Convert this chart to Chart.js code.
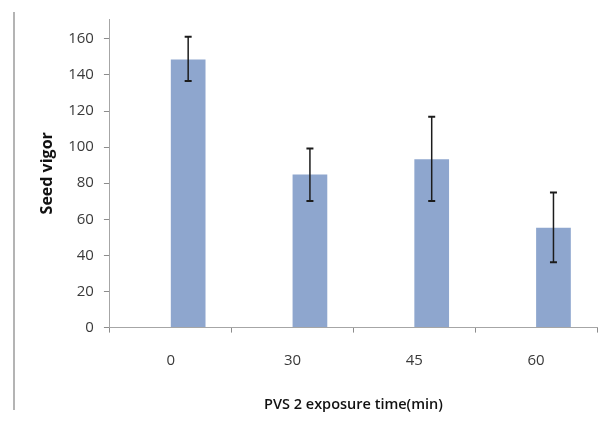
<!DOCTYPE html>
<html>
<head>
<meta charset="utf-8">
<script src="https://cdn.jsdelivr.net/npm/chart.js@4"></script>
<style>
  html, body { margin: 0; padding: 0; background: #fff; }
  #wrap { position: relative; width: 603px; height: 431px; }
  #edge { position: absolute; left: 13px; top: 12px; width: 2px; height: 398px; background: #b4b4b4; }
</style>
</head>
<body>
<div id="wrap">
  <canvas id="myChart" width="603" height="431"></canvas>
  <div id="edge"></div>
</div>
<script>
var xValues = ["0", "30", "45", "60"];
var vigor = [148.5, 84.8, 93.3, 55.3];
var errLow = [136.6, 70.2, 70.2, 36.2];
var errHigh = [161.2, 99.3, 116.8, 74.9];
// the Excel original has an empty first series, which pushes the bars right of the labels
var emptySeries = [null, null, null, null];

var tickFont = { family: "Open Sans", size: 15 };

var errorBars = {
  id: "errorBars",
  afterDatasetsDraw: function (chart) {
    var ctx = chart.ctx;
    var y = chart.scales.y;
    var meta = chart.getDatasetMeta(1);
    ctx.save();
    ctx.strokeStyle = "#1c1c1c";
    meta.data.forEach(function (bar, i) {
      var x = bar.x;
      var top = y.getPixelForValue(errHigh[i]);
      var bot = y.getPixelForValue(errLow[i]);
      ctx.lineWidth = 1.5;
      ctx.beginPath();
      ctx.moveTo(x, top);
      ctx.lineTo(x, bot);
      ctx.stroke();
      ctx.lineWidth = 2;
      ctx.beginPath();
      ctx.moveTo(x - 3.5, top);
      ctx.lineTo(x + 3.5, top);
      ctx.moveTo(x - 3.5, bot);
      ctx.lineTo(x + 3.5, bot);
      ctx.stroke();
    });
    ctx.restore();
  }
};

new Chart("myChart", {
  type: "bar",
  data: {
    labels: xValues,
    datasets: [{
      data: emptySeries,
      backgroundColor: "rgba(0,0,0,0)"
    }, {
      data: vigor,
      backgroundColor: "#8ea6ce",
      borderWidth: 0
    }]
  },
  plugins: [errorBars],
  options: {
    responsive: false,
    animation: false,
    datasets: { bar: { barPercentage: 1.0, categoryPercentage: 0.57 } },
    layout: { padding: { left: 25, right: 6, top: 5, bottom: 0 } },
    plugins: {
      legend: { display: false },
      tooltip: { enabled: false }
    },
    scales: {
      x: {
        offset: true,
        border: { color: "#a6a6a6", width: 1 },
        grid: { offset: true, drawOnChartArea: false, tickLength: 5, color: "#8c8c8c" },
        ticks: { padding: 19, color: "#3a3a3a", font: tickFont },
        title: {
          display: true,
          text: "PVS 2 exposure time(min)",
          color: "#111",
          font: { family: "Open Sans", size: 14.5, weight: "600" },
          padding: { top: 8, bottom: 17 }
        }
      },
      y: {
        min: 0,
        max: 171,
        afterBuildTicks: function (axis) {
          axis.ticks = axis.ticks.filter(function (t) { return t.value <= 160; });
        },
        border: { color: "#a6a6a6", width: 1 },
        grid: { drawOnChartArea: false, tickLength: 6, color: "#8c8c8c" },
        ticks: { stepSize: 20, padding: 10, color: "#3a3a3a", font: tickFont },
        title: {
          display: true,
          text: "Seed vigor",
          color: "#111",
          font: { family: "Open Sans", size: 16, weight: "bold" },
          padding: { top: 13, bottom: 1 }
        }
      }
    }
  }
});
</script>
</body>
</html>
